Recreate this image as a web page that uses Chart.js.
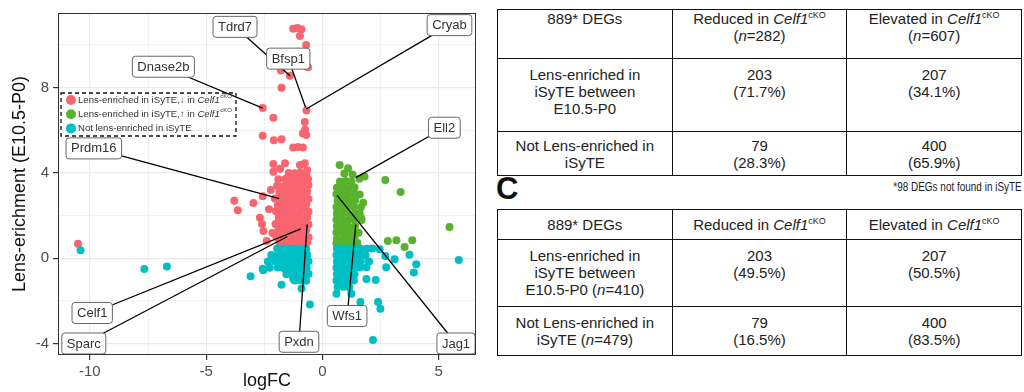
<!DOCTYPE html>
<html>
<head>
<meta charset="utf-8">
<script src="https://cdn.jsdelivr.net/npm/chart.js@4.4.0/dist/chart.umd.min.js"></script>
<style>
  body { margin:0; width:1024px; height:392px; background:#fff; position:relative; overflow:hidden;
         font-family:"Liberation Sans", Arial, sans-serif; }
  #plot { position:absolute; left:0; top:0; }
  table { position:absolute; left:497px; width:525px; border-collapse:collapse; table-layout:fixed;
          color:#222; font-size:15px; line-height:17px; }
  td { border:1.5px solid #111; text-align:center; vertical-align:middle; padding:0 3px; }
  td.top { vertical-align:top; padding-top:7px; }
  td.hd { vertical-align:top; padding-top:0; }
  sup { font-size:9px; line-height:0; vertical-align:6px; font-style:normal; }
  #t1 { top:9px; }
  #t2 { top:209px; }
  #panelC { position:absolute; left:496px; top:173px; font-size:31px; font-weight:bold; line-height:31px; color:#111; }
  #note { position:absolute; right:2px; top:180px; font-size:12px; color:#222;
          transform:scaleX(0.83); transform-origin:right center; white-space:nowrap; }
</style>
</head>
<body>
<canvas id="plot" width="480" height="392"></canvas>

<table id="t1">
  <tr style="height:49px">
    <td class="hd">889* DEGs</td>
    <td class="hd">Reduced in <i>Celf1</i><sup>cKO</sup><br>(<i>n</i>=282)</td>
    <td class="hd">Elevated in <i>Celf1</i><sup>cKO</sup><br>(<i>n</i>=607)</td>
  </tr>
  <tr style="height:73px">
    <td class="top">Lens-enriched in<br>iSyTE between<br>E10.5-P0</td>
    <td class="top">203<br>(71.7%)</td>
    <td class="top">207<br>(34.1%)</td>
  </tr>
  <tr style="height:44px">
    <td>Not Lens-enriched in<br>iSyTE</td>
    <td>79<br>(28.3%)</td>
    <td>400<br>(65.9%)</td>
  </tr>
</table>

<div id="panelC">C</div>
<div id="note">*98 DEGs not found in iSyTE</div>

<table id="t2">
  <tr style="height:30px">
    <td>889* DEGs</td>
    <td>Reduced in <i>Celf1</i><sup>cKO</sup></td>
    <td>Elevated in <i>Celf1</i><sup>cKO</sup></td>
  </tr>
  <tr style="height:67px">
    <td class="top">Lens-enriched in<br>iSyTE between<br>E10.5-P0 (<i>n</i>=410)</td>
    <td class="top">203<br>(49.5%)</td>
    <td class="top">207<br>(50.5%)</td>
  </tr>
  <tr style="height:49px">
    <td>Not Lens-enriched in<br>iSyTE (<i>n</i>=479)</td>
    <td>79<br>(16.5%)</td>
    <td>400<br>(83.5%)</td>
  </tr>
</table>

<script>
// logFC vs lens enrichment
// lens-enriched, reduced in Celf1 cKO (red)
const reducedLens = [
  [-1.26,10.76],[-1.08,10.8],[-0.9,10.74],[-0.97,10.42],[-0.7,10.0],[-0.62,8.95],[-1.79,8.8],
  [-1.40,8.56],[-1.76,8.0],[-2.57,7.04],[-0.69,6.93],[-2.11,6.59],[-0.76,6.39],[-0.75,6.02],
  [-0.84,5.85],[-2.57,5.74],[-2.09,5.53],[-1.76,5.58],[-1.26,5.19],[-1.05,5.22],[-0.84,5.19],
  [-0.7,5.78],[-2.11,4.42],[-1.61,4.45],[-2.11,4.06],[-0.97,4.37],[-0.76,4.45],[-1.82,4.2],
  [-0.66,4.12],[-3.79,2.70],[-3.64,2.25],[-2.97,2.59],[-2.57,2.9],[-2.54,1.27],[-2.69,1.9],
  [-2.4,0.81],[-2.15,1.18],[-2.3,2.3],[-2.22,3.2],[-10.51,0.68],[-2.6,1.6],
  [-1.45,4.0],[-1.2,3.98],[-0.95,4.02],[-0.7,3.97],
  [-1.9,3.7],[-1.6,3.72],[-1.35,3.68],[-1.1,3.71],[-0.85,3.69],[-0.62,3.72],
  [-1.95,3.4],[-1.7,3.38],[-1.45,3.42],[-1.22,3.39],[-0.98,3.41],[-0.75,3.38],[-0.6,3.43],
  [-1.85,3.1],[-1.6,3.12],[-1.38,3.08],[-1.15,3.11],[-0.9,3.09],[-0.66,3.12],
  [-2.05,2.8],[-1.8,2.82],[-1.55,2.78],[-1.3,2.81],[-1.07,2.79],[-0.82,2.82],[-0.6,2.78],
  [-1.92,2.5],[-1.68,2.52],[-1.44,2.48],[-1.2,2.51],[-0.95,2.49],[-0.7,2.52],
  [-2.0,2.2],[-1.75,2.22],[-1.5,2.18],[-1.27,2.21],[-1.02,2.19],[-0.78,2.22],[-0.6,2.18],
  [-1.88,1.9],[-1.62,1.92],[-1.4,1.88],[-1.15,1.91],[-0.9,1.89],[-0.66,1.92],
  [-2.02,1.6],[-1.78,1.62],[-1.52,1.58],[-1.3,1.61],[-1.05,1.59],[-0.8,1.62],[-0.6,1.58],
  [-1.9,1.3],[-1.65,1.32],[-1.42,1.28],[-1.18,1.31],[-0.93,1.29],[-0.7,1.32],
  [-1.98,1.0],[-1.72,1.02],[-1.5,0.98],[-1.25,1.01],[-1.0,0.99],[-0.78,1.02],[-0.6,0.98],
  [-1.85,0.75],[-1.6,0.76],[-1.35,0.74],[-1.1,0.77],[-0.88,0.75],[-0.65,0.76]
];
// lens-enriched, elevated in Celf1 cKO (green)
const elevatedLens = [
  [0.74,4.37],[1.1,4.22],[0.94,3.97],[1.29,3.92],[1.59,3.73],[1.81,3.83],[2.7,3.67],[3.36,3.1],
  [5.46,1.46],[2.81,0.81],[3.18,0.84],[3.86,0.84],[3.53,0.53],[1.67,1.89],[1.75,2.6],
  [0.75,3.6],[1.0,3.62],[1.25,3.58],
  [0.62,3.3],[0.88,3.32],[1.12,3.28],[1.38,3.31],
  [0.6,3.0],[0.85,3.02],[1.1,2.98],[1.35,3.01],[1.6,2.99],
  [0.65,2.7],[0.9,2.72],[1.15,2.68],[1.4,2.71],
  [0.6,2.4],[0.85,2.42],[1.1,2.38],[1.35,2.41],[1.65,2.39],
  [0.62,2.1],[0.88,2.12],[1.12,2.08],[1.4,2.11],[1.6,2.09],
  [0.6,1.8],[0.85,1.82],[1.1,1.78],[1.35,1.81],[1.68,1.79],
  [0.62,1.5],[0.88,1.52],[1.12,1.48],[1.4,1.51],
  [0.6,1.2],[0.85,1.22],[1.1,1.18],[1.35,1.21],[1.55,1.19],
  [0.62,0.9],[0.88,0.92],[1.12,0.88],[1.38,0.91],
  [0.6,0.7],[0.85,0.71],[1.1,0.69],[1.3,0.7],[1.5,0.71]
];
// not lens-enriched (cyan)
const notLens = [
  [-3.09,-0.85],[-2.54,-0.56],[-1.76,-1.24],[-0.54,-2.17],[-0.9,-1.42],[-10.4,0.37],[-7.66,-0.51],
  [-6.69,-0.39],[-2.57,-0.5],[-1.26,-0.95],
  [-1.95,0.45],[-1.7,0.46],[-1.45,0.44],[-1.2,0.46],[-0.95,0.45],[-0.7,0.44],
  [-2.2,0.15],[-1.9,0.16],[-1.65,0.14],[-1.4,0.15],[-1.15,0.16],[-0.9,0.14],[-0.65,0.15],
  [-2.35,-0.15],[-2.05,-0.14],[-1.8,-0.16],[-1.55,-0.15],[-1.3,-0.14],[-1.05,-0.16],[-0.8,-0.15],[-0.6,-0.14],
  [-2.27,-0.45],[-1.93,-0.44],[-1.68,-0.46],[-1.42,-0.45],[-1.18,-0.44],[-0.92,-0.46],[-0.68,-0.45],
  [-1.55,-0.75],[-1.3,-0.74],[-1.05,-0.76],[-0.8,-0.75],[-0.6,-0.74],
  [-1.2,-1.05],[-0.95,-1.04],[-0.7,-1.06],
  [0.6,-1.67],[1.24,-1.67],[1.63,-2.06],[2.39,-2.06],[2.49,-2.37],[2.17,-3.84],[5.86,-0.09],
  [3.74,0.16],[4.03,-0.28],[3.93,-0.67],[3.1,-0.05],[2.74,-0.43],[2.29,-1.02],[1.89,-0.98],
  [2.46,0.42],[2.7,0.1],
  [0.62,0.45],[0.88,0.46],[1.12,0.44],[1.38,0.45],[1.62,0.46],[1.9,0.44],[2.15,0.45],
  [0.6,0.15],[0.85,0.16],[1.1,0.14],[1.35,0.15],[1.6,0.16],[1.85,0.14],
  [0.62,-0.15],[0.88,-0.14],[1.12,-0.16],[1.38,-0.15],[1.65,-0.14],[2.0,-0.16],
  [0.6,-0.45],[0.85,-0.44],[1.1,-0.46],[1.35,-0.45],[1.6,-0.44],[1.89,-0.43],
  [0.62,-0.75],[0.88,-0.74],[1.12,-0.76],[1.38,-0.75],
  [0.6,-1.05],[0.85,-1.04],[1.1,-1.06],[1.35,-1.05],
  [0.65,-1.35],[0.9,-1.34],[1.15,-1.36]
];

// tick positions (majors get labels, the rest are minor grid lines)
const xTicks = [-10, -7.5, -5, -2.5, 0, 2.5, 5];
const xLabelled = [-10, -5, 0, 5];
const yTicks = [-4, -2, 0, 2, 4, 6, 8, 10];
const yLabelled = [-4, 0, 4, 8];

// gene call-outs: name, the point it marks, and where its box sits (data units)
const geneNames = ['Tdrd7','Bfsp1','Cryab','Dnase2b','Prdm16','Ell2','Celf1','Sparc','Pxdn','Wfs1','Jag1'];
const genePoints = [[-1.40,8.56],[-0.73,7.08],[-0.70,7.00],[-2.57,7.04],[-1.86,2.79],[1.43,3.78],
                    [-0.93,1.38],[-1.51,1.02],[-0.66,1.58],[1.43,1.58],[0.63,2.95]];
const geneBoxAt = [[-3.76,10.85],[-1.47,9.36],[5.46,10.93],[-6.84,8.98],[-9.83,5.15],[5.24,6.12],
                   [-9.9,-2.57],[-10.26,-4.0],[-1.01,-3.92],[1.06,-2.71],[5.74,-4.0]];

const RED = '#F8656E', GREEN = '#58B22E', CYAN = '#00BFC4';
const FONT = '"Liberation Sans", Arial, sans-serif';

const legendRows = [
  { color: RED, text: 'Lens-enriched in iSyTE,\u2193 in ', gene: true },
  { color: GREEN, text: 'Lens-enriched in iSyTE,\u2191 in ', gene: true },
  { color: CYAN, text: 'Not lens-enriched in iSyTE', gene: false }
];

// labels, lines, legend and panel border drawn over the points
const overlay = {
  id: 'overlay',
  afterDatasetsDraw(chart) {
    const { ctx, chartArea: a, scales: { x, y } } = chart;
    ctx.save();

    ctx.strokeStyle = '#000';
    ctx.lineWidth = 1.3;
    geneNames.forEach((g, i) => {
      ctx.beginPath();
      ctx.moveTo(x.getPixelForValue(geneBoxAt[i][0]), y.getPixelForValue(geneBoxAt[i][1]));
      ctx.lineTo(x.getPixelForValue(genePoints[i][0]), y.getPixelForValue(genePoints[i][1]));
      ctx.stroke();
    });

    ctx.font = '13px ' + FONT;
    ctx.textAlign = 'center';
    ctx.textBaseline = 'middle';
    geneNames.forEach((g, i) => {
      const cx = x.getPixelForValue(geneBoxAt[i][0]);
      const cy = y.getPixelForValue(geneBoxAt[i][1]);
      const w = ctx.measureText(g).width + 10, h = 21;
      ctx.beginPath();
      ctx.roundRect(cx - w / 2, cy - h / 2, w, h, 3);
      ctx.fillStyle = '#fff';
      ctx.fill();
      ctx.strokeStyle = '#666';
      ctx.lineWidth = 1;
      ctx.stroke();
      ctx.fillStyle = '#333';
      ctx.fillText(g, cx, cy + 0.5);
    });

    // legend box, top-left inside the panel
    const lx = a.left + 3, ly = a.top + 80;
    ctx.setLineDash([4, 3]);
    ctx.strokeStyle = '#111';
    ctx.lineWidth = 1.3;
    ctx.strokeRect(lx, ly, 175, 43);
    ctx.setLineDash([]);
    ctx.textAlign = 'left';
    legendRows.forEach((r, i) => {
      const ry = ly + 7 + i * 14.2;
      ctx.beginPath();
      ctx.arc(lx + 10, ry, 5, 0, Math.PI * 2);
      ctx.fillStyle = r.color;
      ctx.fill();
      ctx.fillStyle = '#333';
      ctx.font = '9.6px ' + FONT;
      let tx = lx + 17;
      ctx.fillText(r.text, tx, ry);
      if (r.gene) {
        tx += ctx.measureText(r.text).width;
        ctx.font = 'italic 9.6px ' + FONT;
        ctx.fillText('Celf1', tx, ry);
        tx += ctx.measureText('Celf1').width;
        ctx.font = '6px ' + FONT;
        ctx.fillText('cKO', tx + 0.5, ry - 3.5);
      }
    });

    ctx.strokeStyle = '#333';
    ctx.lineWidth = 1;
    ctx.strokeRect(a.left + 0.5, a.top + 0.5, a.width - 1, a.height - 1);
    ctx.restore();
  }
};

const makeChart = () => {
  const ctx = document.getElementById('plot').getContext('2d');
  const toPts = arr => arr.map(p => ({ x: p[0], y: p[1] }));
  const majorWidth = (list) => (c) => (c.tick && list.includes(c.tick.value) ? 1.2 : 0.6);

  new Chart(ctx, {
    type: 'scatter',
    data: {
      datasets: [
        { label: 'reduced', data: toPts(reducedLens), backgroundColor: RED, order: 3 },
        { label: 'elevated', data: toPts(elevatedLens), backgroundColor: GREEN, order: 2 },
        { label: 'not lens', data: toPts(notLens), backgroundColor: CYAN, order: 1 }
      ]
    },
    options: {
      responsive: false,
      devicePixelRatio: 1,
      animation: false,
      layout: { padding: { top: 10, right: 3, left: 0, bottom: 0 } },
      elements: { point: { radius: 4, borderWidth: 0, hoverRadius: 4 } },
      plugins: { legend: { display: false }, tooltip: { enabled: false } },
      scales: {
        x: {
          type: 'linear', min: -11.37, max: 6.6,
          afterBuildTicks: s => { s.ticks = xTicks.map(v => ({ value: v })); },
          afterFit: s => { s.height = 37; },
          border: { display: false },
          grid: {
            color: '#EAEAEA', lineWidth: majorWidth(xLabelled), tickLength: 5,
            tickColor: c => (xLabelled.includes(c.tick.value) ? '#333' : 'rgba(0,0,0,0)')
          },
          ticks: {
            autoSkip: false, maxRotation: 0, padding: 3, color: '#4D4D4D',
            font: { family: FONT, size: 15 },
            callback: v => (xLabelled.includes(v) ? String(v) : '')
          },
          title: {
            display: true, text: 'logFC', color: '#111',
            font: { family: FONT, size: 18 }, padding: { top: 0, bottom: 0 }
          }
        },
        y: {
          type: 'linear', min: -4.54, max: 11.5,
          afterBuildTicks: s => { s.ticks = yTicks.map(v => ({ value: v })); },
          afterFit: s => { s.width = 58; },
          border: { display: false },
          grid: {
            color: '#EAEAEA', lineWidth: majorWidth(yLabelled), tickLength: 5,
            tickColor: c => (yLabelled.includes(c.tick.value) ? '#333' : 'rgba(0,0,0,0)')
          },
          ticks: {
            autoSkip: false, padding: 4, color: '#4D4D4D',
            font: { family: FONT, size: 15 },
            callback: v => (yLabelled.includes(v) ? String(v) : '')
          },
          title: {
            display: true, text: 'Lens-erichment (E10.5-P0)', color: '#111',
            font: { family: FONT, size: 18 }, padding: { top: 9, bottom: 0 }
          }
        }
      }
    },
    plugins: [overlay]
  });
};

makeChart();
</script>
</body>
</html>
